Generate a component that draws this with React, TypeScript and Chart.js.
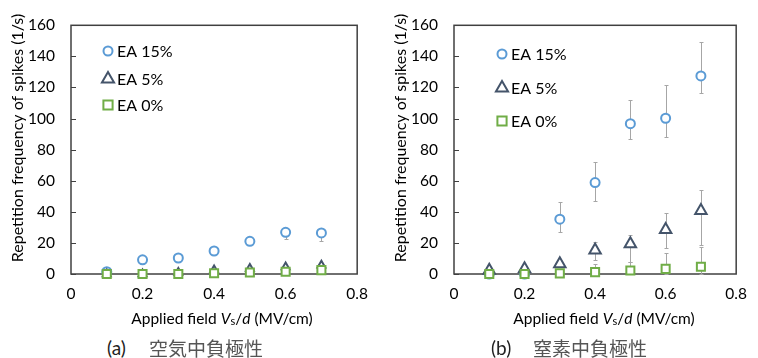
import React, { useEffect, useRef } from "react";
import { Chart, registerables } from "chart.js";
Chart.register(...registerables);

const fieldValues = [0.1, 0.2, 0.3, 0.4, 0.5, 0.6, 0.7];
const xTickValues = [0, 0.2, 0.4, 0.6, 0.8];
const yTickValues = [0, 20, 40, 60, 80, 100, 120, 140, 160];
const seriesLabels = ["EA 15%", "EA 5%", "EA 0%"];
const yAxisTitle = "Repetition frequency of spikes (1/s)";

// (a) air, negative polarity
const airEA15 = [1.5, 9.1, 10.3, 14.8, 21.0, 26.8, 26.4];
const airEA15Hi = [null, null, null, null, null, 28.5, 28.5];
const airEA15Lo = [null, null, null, null, null, 22.7, 21.4];
const airEA5 = [0, 0, 1.0, 2.5, 3.5, 4.5, 5.6];
const airEA0 = [0, 0, 0, 0.5, 1.0, 1.5, 2.5];

// (b) nitrogen, negative polarity
const n2EA15 = [0, 0, 35.3, 58.8, 96.7, 100.2, 127.4];
const n2EA15Hi = [null, null, 46.2, 71.8, 111.8, 121.4, 149.3];
const n2EA15Lo = [null, null, 27.0, 47.0, 86.6, 88.0, 116.3];
const n2EA5 = [2.3, 3.3, 6.5, 15.3, 19.4, 28.5, 40.8];
const n2EA5Hi = [null, null, null, 20.4, 25.0, 39.5, 54.0];
const n2EA5Lo = [null, null, null, 8.9, 7.4, 16.8, 18.8];
const n2EA0 = [0, 0, 0.4, 1.2, 2.3, 3.3, 4.7];
const n2EA0Hi = [null, null, null, 6.4, 7.4, 13.7, 17.4];
const n2EA0Lo = [null, null, null, 0, 0, 0, 0];

const FONT = "Lato, 'Noto Sans', sans-serif";
const COL15 = "#5B9BD5";
const COL5 = "#44546A";
const COL0 = "#70AD47";
const AXIS = "#404040";

type Err = { hi: (number | null)[]; lo: (number | null)[] };
type Cfg = {
  width: number;
  height: number;
  padRight: number;
  series: number[][];
  errors: Err[];
  triRadius: number;
  legendX: number;
  legendYs: number[];
};

function drawMarker(ctx: CanvasRenderingContext2D, style: string, x: number, y: number, r: number, color: string) {
  ctx.save();
  ctx.strokeStyle = color;
  ctx.fillStyle = "#fff";
  ctx.lineWidth = 2;
  ctx.beginPath();
  if (style === "circle") {
    ctx.arc(x, y, r, 0, Math.PI * 2);
  } else if (style === "triangle") {
    ctx.moveTo(x, y - r);
    ctx.lineTo(x + Math.sin((2 * Math.PI) / 3) * r, y - Math.cos((2 * Math.PI) / 3) * r);
    ctx.lineTo(x + Math.sin((4 * Math.PI) / 3) * r, y - Math.cos((4 * Math.PI) / 3) * r);
    ctx.closePath();
  } else {
    const s = r * Math.SQRT1_2;
    ctx.rect(x - s, y - s, 2 * s, 2 * s);
  }
  ctx.fill();
  ctx.stroke();
  ctx.restore();
}

function makePlugin(cfg: Cfg) {
  return {
    id: "decor",
    beforeDatasetsDraw(chart: any) {
      const { ctx, chartArea: a, scales } = chart;
      ctx.save();
      // frame
      ctx.strokeStyle = AXIS;
      ctx.lineWidth = 1.5;
      ctx.strokeRect(a.left, a.top, a.right - a.left, a.bottom - a.top);
      // inward y ticks
      ctx.lineWidth = 1;
      yTickValues.forEach((v) => {
        const y = Math.round(scales.y.getPixelForValue(v)) + 0.5;
        ctx.beginPath();
        ctx.moveTo(a.left, y);
        ctx.lineTo(a.left + 5, y);
        ctx.stroke();
      });
      // error bars
      ctx.strokeStyle = "#A6A6A6";
      ctx.lineWidth = 1;
      cfg.errors.forEach((e) => {
        fieldValues.forEach((f, i) => {
          const hi = e.hi[i];
          const lo = e.lo[i];
          if (hi == null || lo == null) return;
          const x = Math.round(scales.x.getPixelForValue(f)) + 0.5;
          const yH = Math.round(scales.y.getPixelForValue(hi)) + 0.5;
          const yL = Math.round(scales.y.getPixelForValue(lo)) + 0.5;
          ctx.beginPath();
          ctx.moveTo(x, yH);
          ctx.lineTo(x, yL);
          ctx.moveTo(x - 2, yH);
          ctx.lineTo(x + 2, yH);
          ctx.moveTo(x - 2, yL);
          ctx.lineTo(x + 2, yL);
          ctx.stroke();
        });
      });
      ctx.restore();
    },
    afterDraw(chart: any) {
      const { ctx, chartArea: a } = chart;
      ctx.save();
      // legend
      const styles = ["circle", "triangle", "rect"];
      const colors = [COL15, COL5, COL0];
      const radii = [4.5, 7, 6.5];
      ctx.font = `16px ${FONT}`;
      ctx.fillStyle = "#000";
      ctx.textBaseline = "middle";
      ctx.textAlign = "left";
      seriesLabels.forEach((lab, i) => {
        const y = cfg.legendYs[i];
        drawMarker(ctx, styles[i], a.left + cfg.legendX, y, radii[i], colors[i]);
        ctx.fillText(lab, a.left + cfg.legendX + 9, y + 1);
      });
      // y title
      ctx.translate(18, 138);
      ctx.rotate(-Math.PI / 2);
      ctx.textAlign = "center";
      ctx.fillText(yAxisTitle, 0, 0);
      ctx.restore();
    },
  };
}

function buildConfig(cfg: Cfg): any {
  const styles = ["circle", "triangle", "rect"];
  const colors = [COL15, COL5, COL0];
  const radii = [4.5, cfg.triRadius, 5.7];
  const datasets = cfg.series.map((vals, si) => ({
    label: seriesLabels[si],
    data: fieldValues.map((x, i) => ({ x, y: vals[i] })),
    pointStyle: styles[si],
    pointRadius: radii[si],
    pointHoverRadius: radii[si],
    pointBorderWidth: 2,
    borderColor: colors[si],
    pointBorderColor: colors[si],
    pointBackgroundColor: "#fff",
    backgroundColor: "#fff",
    showLine: false,
    clip: false,
    order: 3 - si,
  }));
  const tickFont = { family: FONT, size: 15.5 };
  return {
    type: "scatter",
    data: { datasets },
    options: {
      responsive: false,
      animation: false,
      devicePixelRatio: 1,
      events: [],
      layout: { padding: { left: 0, right: cfg.padRight, top: 17, bottom: 0 } },
      plugins: { legend: { display: false }, tooltip: { enabled: false } },
      scales: {
        x: {
          type: "linear",
          min: 0,
          max: 0.8,
          afterBuildTicks: (s: any) => {
            s.ticks = xTickValues.map((v) => ({ value: v }));
          },
          afterFit: (s: any) => {
            s.height = cfg.height - 274;
          },
          grid: { display: false, drawTicks: false },
          border: { display: false },
          ticks: { padding: 11, color: "#000", font: tickFont, callback: (v: any) => String(v) },
        },
        y: {
          type: "linear",
          min: 0,
          max: 160,
          afterBuildTicks: (s: any) => {
            s.ticks = yTickValues.map((v) => ({ value: v }));
          },
          afterFit: (s: any) => {
            s.width = 71;
          },
          grid: { display: false, drawTicks: false },
          border: { display: false },
          ticks: { padding: 16, color: "#000", font: tickFont, callback: (v: any) => String(v) },
        },
      },
    },
    plugins: [makePlugin(cfg)],
  };
}

const airCfg: Cfg = {
  width: 379,
  height: 310,
  padRight: 12,
  series: [airEA15, airEA5, airEA0],
  errors: [{ hi: airEA15Hi, lo: airEA15Lo }],
  triRadius: 4.5,
  legendX: 37,
  legendYs: [51, 79, 105],
};

const n2Cfg: Cfg = {
  width: 375,
  height: 310,
  padRight: 7,
  series: [n2EA15, n2EA5, n2EA0],
  errors: [
    { hi: n2EA15Hi, lo: n2EA15Lo },
    { hi: n2EA5Hi, lo: n2EA5Lo },
    { hi: n2EA0Hi, lo: n2EA0Lo },
  ],
  triRadius: 6.6,
  legendX: 48,
  legendYs: [54, 88, 121],
};

function ChartPanel({ left, cfg }: { left: number; cfg: Cfg }) {
  const ref = useRef<HTMLCanvasElement | null>(null);
  useEffect(() => {
    if (!ref.current) return;
    const chart = new Chart(ref.current, buildConfig(cfg));
    return () => chart.destroy();
  }, [cfg]);
  return (
    <canvas
      ref={ref}
      width={cfg.width}
      height={cfg.height}
      style={{ position: "absolute", left, top: 0, width: cfg.width, height: cfg.height }}
    />
  );
}

function XTitle({ center }: { center: number }) {
  return (
    <div
      style={{
        position: "absolute",
        left: center - 150,
        width: 300,
        top: 309,
        lineHeight: "18px",
        textAlign: "center",
        fontFamily: FONT,
        fontSize: 15.5,
        color: "#000",
        whiteSpace: "nowrap",
      }}
    >
      Applied field <i>V</i>
      <span style={{ fontSize: 11, position: "relative", top: 1 }}>s</span>/<i>d</i> (MV/cm)
    </div>
  );
}

function Caption({ left, tag, text }: { left: number; tag: string; text: string }) {
  return (
    <div style={{ position: "absolute", left, top: 336, height: 24, lineHeight: "24px", whiteSpace: "nowrap" }}>
      <span style={{ fontFamily: FONT, fontSize: 19, color: "#222" }}>{tag}</span>
      <span
        style={{
          position: "absolute",
          left: 42,
          fontFamily: "'Noto Sans CJK JP', sans-serif",
          fontSize: 19,
          color: "#555",
        }}
      >
        {text}
      </span>
    </div>
  );
}

export default function App() {
  return (
    <div
      style={{
        position: "absolute",
        left: 0,
        top: 0,
        width: 758,
        height: 358,
        background: "#fff",
        overflow: "hidden",
      }}
    >
      <ChartPanel left={0} cfg={airCfg} />
      <ChartPanel left={383} cfg={n2Cfg} />
      <XTitle center={222} />
      <XTitle center={604} />
      <Caption left={107} tag="(a)" text="空気中負極性" />
      <Caption left={491} tag="(b)" text="窒素中負極性" />
    </div>
  );
}
